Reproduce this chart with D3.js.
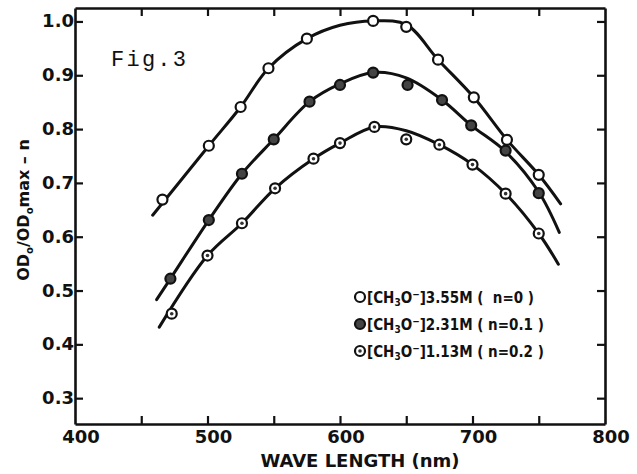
<!DOCTYPE html>
<html>
<head>
<meta charset="utf-8">
<script src="https://cdn.jsdelivr.net/npm/d3@7"></script>
<style>
  body { margin: 0; background: #fff; }
  text { font-family: "DejaVu Sans", sans-serif; font-weight: bold; fill: #111; }
</style>
</head>
<body>
<div id="chart"></div>
<script>
// measured points (wavelength nm, OD ratio - n)
var wl0 = [466, 501, 525, 546, 575, 625, 650, 674, 701, 726, 750];
var od0 = [0.669, 0.769, 0.841, 0.913, 0.968, 1.001, 0.990, 0.929, 0.859, 0.780, 0.715];
var wl1 = [472, 501, 526, 550, 577, 600, 625, 651, 677, 699, 725, 750];
var od1 = [0.522, 0.631, 0.717, 0.781, 0.851, 0.882, 0.905, 0.882, 0.854, 0.807, 0.760, 0.681];
var wl2 = [473, 500, 526, 551, 580, 600, 626, 650, 675, 700, 725, 750];
var od2 = [0.457, 0.565, 0.625, 0.690, 0.745, 0.774, 0.804, 0.781, 0.771, 0.734, 0.680, 0.606];
// hand drawn smooth curves
var cw0 = [458.6, 501, 525, 546, 575, 600, 625, 650, 674, 701, 726, 750, 766.5];
var cv0 = [0.640, 0.769, 0.841, 0.913, 0.968, 0.993, 1.001, 0.994, 0.929, 0.859, 0.780, 0.715, 0.661];
var cw1 = [461.6, 472, 501, 526, 550, 577, 600, 625, 650, 677, 699, 725, 750, 765.5];
var cv1 = [0.483, 0.522, 0.631, 0.717, 0.781, 0.851, 0.884, 0.905, 0.895, 0.854, 0.807, 0.758, 0.683, 0.608];
var cw2 = [463.6, 500, 526, 551, 580, 600, 626, 650, 675, 700, 725, 750, 764.8];
var cv2 = [0.432, 0.565, 0.625, 0.690, 0.745, 0.774, 0.804, 0.797, 0.771, 0.734, 0.680, 0.606, 0.549];
var xTicks = [450, 500, 550, 600, 650, 700, 750];
var xLabels = [400, 500, 600, 700, 800];
var yTicks = [0.3, 0.4, 0.5, 0.6, 0.7, 0.8, 0.9, 1.0];
var legendNames = ["3.55M", "2.31M", "1.13M"];
var legendN = ["(  n=0 )", "( n=0.1 )", "( n=0.2 )"];

var W = 637, H = 474;
var svg = d3.select("#chart").append("svg").attr("width", W).attr("height", H);

var x = d3.scaleLinear().domain([400, 800]).range([75, 605]);
var y = d3.scaleLinear().domain([0.252, 1.025]).range([424, 8]);

function frameAxis(g) {
  g.selectAll(".domain").attr("stroke", "#111").attr("stroke-width", 2.6);
  g.selectAll(".tick line").attr("stroke", "#111").attr("stroke-width", 2.2);
}
// ticks point inward
svg.append("g").attr("transform", "translate(0,424)")
  .call(d3.axisBottom(x).tickValues(xTicks).tickSizeInner(-8).tickSizeOuter(0).tickFormat(""))
  .call(frameAxis);
svg.append("g").attr("transform", "translate(0,8)")
  .call(d3.axisTop(x).tickValues(xTicks).tickSizeInner(-8).tickSizeOuter(0).tickFormat(""))
  .call(frameAxis);
svg.append("g").attr("transform", "translate(75,0)")
  .call(d3.axisLeft(y).tickValues(yTicks).tickSizeInner(-8).tickSizeOuter(0).tickFormat(""))
  .call(frameAxis);
svg.append("g").attr("transform", "translate(605,0)")
  .call(d3.axisRight(y).tickValues(yTicks).tickSizeInner(-8).tickSizeOuter(0).tickFormat(""))
  .call(frameAxis);

// tick labels
svg.append("g").selectAll("text").data(xLabels).enter().append("text")
  .attr("x", function(d) { return x(d) + 6; })
  .attr("y", 443)
  .attr("text-anchor", "middle")
  .style("font-size", "18px")
  .text(function(d) { return d; });
svg.append("g").selectAll("text").data(yTicks).enter().append("text")
  .attr("x", 74)
  .attr("y", function(d) { return y(d) + 6; })
  .attr("text-anchor", "end")
  .style("font-size", "18px")
  .text(function(d) { return d.toFixed(1); });

// axis titles
svg.append("text").attr("x", 360).attr("y", 467).attr("text-anchor", "middle")
  .style("font-size", "18px")
  .text("WAVE LENGTH (nm)");
var yt = svg.append("text")
  .attr("transform", "translate(29,210) rotate(-90)")
  .attr("text-anchor", "middle")
  .style("font-size", "16px");
yt.append("tspan").text("OD");
yt.append("tspan").attr("dy", 4).style("font-size", "10px").text("o");
yt.append("tspan").attr("dy", -4).text("/OD");
yt.append("tspan").attr("dy", 4).style("font-size", "10px").text("o");
yt.append("tspan").attr("dy", -4).text("max \u2013 n");

svg.append("text").attr("x", 111).attr("y", 66)
  .style("font-family", "'Liberation Mono', monospace")
  .style("font-weight", "normal")
  .style("font-size", "22px")
  .attr("textLength", 75)
  .text("Fig.3");

// curves
var line = d3.line()
  .x(function(d) { return x(d[0]); })
  .y(function(d) { return y(d[1]); })
  .curve(d3.curveCatmullRom.alpha(0.5));
[[cw0, cv0], [cw1, cv1], [cw2, cv2]].forEach(function(c) {
  svg.append("path")
    .datum(d3.zip(c[0], c[1]))
    .attr("d", line)
    .attr("fill", "none")
    .attr("stroke", "#111")
    .attr("stroke-width", 3)
    .attr("stroke-linecap", "round");
});

// markers
function marker(g, kind) {
  g.append("circle").attr("r", 5)
    .attr("fill", kind == 1 ? "#444" : "#fff")
    .attr("stroke", "#111").attr("stroke-width", 2.2);
  if (kind == 2) g.append("circle").attr("r", 1.8).attr("fill", "#333");
}
[[wl0, od0], [wl1, od1], [wl2, od2]].forEach(function(s, i) {
  svg.append("g").selectAll("g").data(d3.zip(s[0], s[1])).enter().append("g")
    .attr("transform", function(d) { return "translate(" + x(d[0]) + "," + y(d[1]) + ")"; })
    .each(function() { marker(d3.select(this), i); });
});

// legend
legendNames.forEach(function(name, i) {
  var ly = 303 + i * 27;
  var g = svg.append("g").attr("transform", "translate(360," + (ly - 6) + ")");
  marker(g, i);
  var t = svg.append("text").attr("x", 367).attr("y", ly)
    .style("font-family", "'DejaVu Sans Condensed', 'DejaVu Sans', sans-serif")
    .style("font-size", "15px")
    .style("white-space", "pre");
  t.append("tspan").text("[CH");
  t.append("tspan").attr("dy", 3).style("font-size", "10px").text("3");
  t.append("tspan").attr("dy", -3).text("O");
  t.append("tspan").attr("dy", -5).style("font-size", "10px").text("\u2212");
  t.append("tspan").attr("dy", 5).text("]" + name + " " + legendN[i]);
});
</script>
</body>
</html>
